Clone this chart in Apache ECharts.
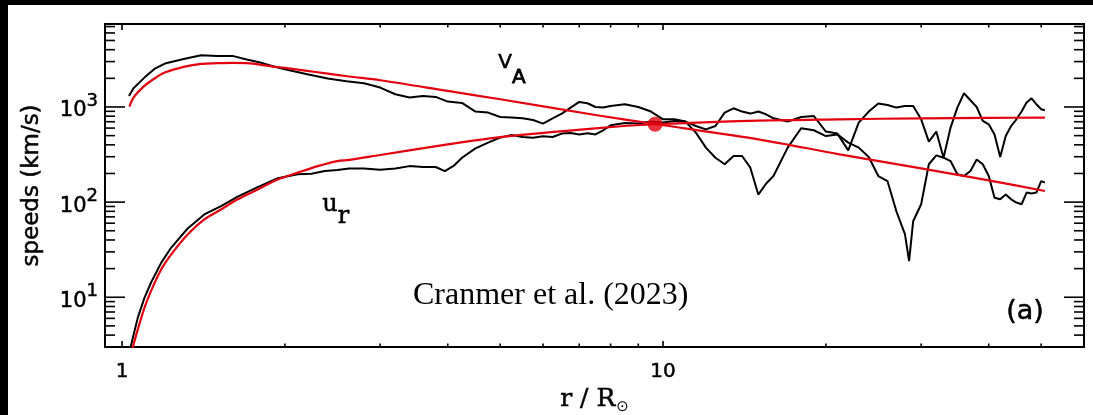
<!DOCTYPE html>
<html>
<head>
<meta charset="utf-8">
<title>Speeds vs radius</title>
<script src="https://cdn.jsdelivr.net/npm/echarts@6/dist/echarts.min.js"></script>
<style>
  html, body { margin: 0; padding: 0; background: #000; width: 100%; height: 100%; overflow: hidden; }
  #chart { position: absolute; left: 8px; top: 5px; right: 0; bottom: 0; background: #fff; }
</style>
</head>
<body>
<div id="chart"></div>
<script>
// Measured Alfven speed (black, noisy)
const vaObsR = [1.03, 1.05, 1.1, 1.15, 1.2, 1.3, 1.4, 1.5, 1.6, 1.7, 1.8, 1.9, 2.0, 2.2, 2.4, 2.6, 2.8, 3.0, 3.2, 3.4, 3.6, 3.8, 4.0, 4.25, 4.5, 4.75, 5.0, 5.25, 5.5, 5.75, 6.0, 6.25, 6.5, 6.75, 7.0, 7.25, 7.5, 7.75, 8.0, 8.5, 9.0, 9.5, 10, 10.5, 11, 11.5, 12, 12.5, 13, 13.5, 14, 14.5, 15, 15.5, 16, 17, 18, 19, 20, 21, 22, 23, 24, 25, 26, 27, 28, 28.5, 29, 30, 31, 32, 33, 34, 35, 36, 37, 38, 39, 40, 41, 42, 43, 44, 45, 46, 47, 48, 49, 50, 50.8];
const vaObsV = [1306, 1574, 2036, 2534, 2862, 3199, 3499, 3444, 3444, 3155, 2931, 2680, 2494, 2208, 1990, 1864, 1775, 1600, 1361, 1256, 1306, 1275, 1140, 1103, 895, 873, 785, 773, 760, 729, 668, 760, 852, 986, 1130, 1094, 1000, 985, 1025, 1068, 1000, 895, 742, 742, 702, 537, 374, 293, 250, 305, 305, 230, 120, 156, 188, 374, 597, 569, 495, 515, 422, 374, 298, 188, 166, 80, 46, 24, 63, 95, 250, 310, 293, 270, 196, 188, 212, 281, 250, 188, 111, 107, 120, 107, 99, 95, 126, 123, 126, 166, 160];

// Measured radial wind speed (black, noisy)
const urObsR = [1.036, 1.069, 1.1, 1.131, 1.181, 1.232, 1.322, 1.419, 1.524, 1.636, 1.781, 1.94, 2.112, 2.24, 2.37, 2.5, 2.63, 2.8, 3.0, 3.2, 3.4, 3.6, 3.8, 3.95, 4.1, 4.25, 4.5, 4.75, 5.0, 5.25, 5.5, 5.75, 6.0, 6.25, 6.5, 6.75, 7.0, 7.25, 7.5, 7.75, 8.0, 8.5, 9.0, 9.5, 10, 10.5, 11, 11.5, 12, 12.5, 13, 13.5, 14, 14.5, 15, 15.5, 16, 17, 18, 19, 20, 21, 22, 23, 24, 25, 26, 27, 28, 29, 30, 31, 32, 33, 34, 35, 36, 37, 38, 39, 40, 41, 42, 43, 44, 45, 46, 47, 48, 49, 50, 50.8];
const urObsV = [2.93, 6.07, 9.86, 14.2, 23, 33.1, 52.8, 74.2, 90.8, 114, 144, 178, 196, 199, 212, 217, 225, 226, 219, 225, 239, 234, 234, 212, 240, 293, 367, 422, 476, 507, 483, 476, 491, 483, 525, 532, 515, 528, 515, 569, 641, 680, 672, 702, 685, 713, 702, 631, 582, 631, 873, 969, 895, 852, 895, 838, 760, 702, 785, 804, 551, 525, 350, 685, 895, 1086, 1050, 985, 1025, 1025, 742, 432, 551, 293, 607, 985, 1394, 1176, 1000, 713, 658, 515, 298, 495, 631, 742, 895, 1112, 1235, 1068, 946, 923];

// Model Alfven speed (red)
const vaModR = [1.032, 1.05, 1.1, 1.15, 1.2, 1.3, 1.4, 1.5, 1.6, 1.7, 1.8, 1.9, 2.0, 2.2, 2.4, 2.63, 3.0, 4.0, 5.0, 7.5, 9.67, 15, 21.2, 30, 40, 50.8];
const vaModV = [1010, 1256, 1664, 2005, 2301, 2636, 2838, 2884, 2908, 2884, 2793, 2660, 2576, 2394, 2245, 2090, 1910, 1474, 1205, 824, 662, 457, 318, 226, 169, 131];

// Model radial wind speed (red)
const urModR = [1.046, 1.069, 1.1, 1.131, 1.181, 1.232, 1.322, 1.419, 1.524, 1.636, 1.781, 1.94, 2.112, 2.3, 2.5, 2.63, 3.0, 4.0, 5.0, 7.5, 9.67, 15, 21.2, 30, 40, 50.8];
const urModV = [2.93, 4.57, 7.73, 11.6, 19.6, 28.1, 45.7, 65.8, 83.7, 107, 136, 173, 204, 239, 270, 278, 313, 405, 483, 597, 658, 720, 742, 760, 768, 773];

// Alfven critical point
const criticalPoint = [9.67, 660];

// Axis tick values
const xMajorTicks = [1, 10];
const xMinorTicks = [2, 3, 4, 5, 6, 7, 8, 9, 20, 30, 40, 50];
const yMajorTicks = [10, 100, 1000];
const yMinorTicks = [4, 5, 6, 7, 8, 9, 20, 30, 40, 50, 60, 70, 80, 90, 200, 300, 400, 500, 600, 700, 800, 900, 2000, 3000, 4000, 5000, 6000, 7000];

const zip = (a, b) => a.map((x, i) => [x, b[i]]);
const RED = '#e3000f';
const SANS = 'DejaVu Sans';
const SERIF = 'DejaVu Serif';
const INK = { color: '#000', textBorderColor: '#000', textBorderWidth: 0.5 };

function isDecade(v) {
  const e = Math.log10(v);
  return Math.abs(e - Math.round(e)) < 1e-6;
}

// Inward ticks on both vertical edges
function yTickSeries(values, len) {
  return {
    type: 'custom', silent: true, clip: false, z: 5,
    data: values.map(v => [1, v]),
    renderItem(params, api) {
      const cs = params.coordSys;
      const y = api.coord([1, api.value(1)])[1];
      const st = { stroke: '#000', lineWidth: 1.6 };
      return { type: 'group', children: [
        { type: 'line', shape: { x1: cs.x, y1: y, x2: cs.x + len, y2: y }, style: st },
        { type: 'line', shape: { x1: cs.x + cs.width, y1: y, x2: cs.x + cs.width - len, y2: y }, style: st }
      ]};
    }
  };
}
// Inward ticks on both horizontal edges
function xTickSeries(values, len) {
  return {
    type: 'custom', silent: true, clip: false, z: 5,
    data: values.map(v => [v, 100]),
    renderItem(params, api) {
      const cs = params.coordSys;
      const x = api.coord([api.value(0), 100])[0];
      const st = { stroke: '#000', lineWidth: 1.6 };
      return { type: 'group', children: [
        { type: 'line', shape: { x1: x, y1: cs.y + cs.height, x2: x, y2: cs.y + cs.height - len }, style: st },
        { type: 'line', shape: { x1: x, y1: cs.y, x2: x, y2: cs.y + len }, style: st }
      ]};
    }
  };
}

const chart = echarts.init(document.getElementById('chart'), null, { renderer: 'canvas' });
chart.setOption({
  animation: false,
  backgroundColor: '#fff',
  textStyle: { fontFamily: SANS, color: '#000' },
  grid: {
    left: 97, top: 19, width: 979, height: 323, outerBoundsMode: 'none', containLabel: false,
    show: true, borderColor: '#000', borderWidth: 2, backgroundColor: 'transparent'
  },
  xAxis: {
    type: 'log', logBase: 10, min: 0.93, max: 60,
    axisLine: { show: true, lineStyle: { color: '#000', width: 2 } },
    axisTick: { show: false }, splitLine: { show: false }, minorTick: { show: false },
    axisLabel: Object.assign({
      margin: 15, fontSize: 20, fontFamily: SANS,
      showMinLabel: false, showMaxLabel: false,
      formatter: v => (isDecade(v) ? String(Math.round(v)) : '')
    }, INK),
    name: '{m|r / R}{s|⊙}', nameLocation: 'middle', nameGap: 33,
    nameTextStyle: {
      rich: {
        m: Object.assign({ fontFamily: SERIF, fontSize: 25, verticalAlign: 'top' }, INK),
        s: { fontFamily: SANS, fontSize: 15, color: '#000', verticalAlign: 'bottom', padding: [12, 0, 0, 1] }
      }
    }
  },
  yAxis: {
    type: 'log', logBase: 10, min: 3, max: 7450,
    axisLine: { show: true, lineStyle: { color: '#000', width: 2 } },
    axisTick: { show: false }, splitLine: { show: false }, minorTick: { show: false },
    axisLabel: {
      margin: 7, color: '#000',
      showMinLabel: false, showMaxLabel: false,
      formatter: v => (isDecade(v) ? '{b|10}{s|' + Math.round(Math.log10(v)) + '}' : ''),
      rich: {
        b: Object.assign({ fontFamily: SANS, fontSize: 21, verticalAlign: 'bottom' }, INK),
        s: Object.assign({ fontFamily: SANS, fontSize: 18, verticalAlign: 'top', padding: [0, 0, 11, 0] }, INK)
      }
    },
    name: 'speeds (km/s)', nameLocation: 'middle', nameGap: 61,
    nameTextStyle: Object.assign({ fontFamily: SANS, fontSize: 23 }, INK)
  },
  graphic: [
    { type: 'text', left: 405, top: 275, style: { text: 'Cranmer et al. (2023)', font: '32px "Liberation Serif"', fill: '#000' } },
    { type: 'text', left: 998, top: 293, style: { text: '(a)', font: '27px "DejaVu Sans"', fill: '#000', stroke: '#000', lineWidth: 0.5 } },
    { type: 'text', left: 490, top: 47, style: {
      text: '{m|V}{s|A}',
      rich: {
        m: { fontFamily: SANS, fontSize: 20, fill: '#000', stroke: '#000', lineWidth: 0.6, verticalAlign: 'top' },
        s: { fontFamily: SANS, fontSize: 20, fill: '#000', stroke: '#000', lineWidth: 0.8, verticalAlign: 'bottom', padding: [15, 0, 0, 0] }
      } } },
    { type: 'text', left: 314, top: 188, style: {
      text: '{m|u}{s|r}',
      rich: {
        m: { fontFamily: SERIF, fontSize: 24, fill: '#000', stroke: '#000', lineWidth: 0.5, verticalAlign: 'top' },
        s: { fontFamily: SERIF, fontSize: 24, fill: '#000', stroke: '#000', lineWidth: 0.5, verticalAlign: 'bottom', padding: [12, 0, 0, 0] }
      } } }
  ],
  series: [
    xTickSeries(xMajorTicks, 6),
    xTickSeries(xMinorTicks, 3.5),
    yTickSeries(yMajorTicks, 20),
    yTickSeries(yMinorTicks, 10),
    { name: 'V_A measured', type: 'line', data: zip(vaObsR, vaObsV), showSymbol: false, lineStyle: { color: '#000', width: 2 }, z: 2 },
    { name: 'u_r measured', type: 'line', data: zip(urObsR, urObsV), showSymbol: false, lineStyle: { color: '#000', width: 2 }, z: 2 },
    { name: 'V_A model', type: 'line', data: zip(vaModR, vaModV), showSymbol: false, smooth: 0.3, lineStyle: { color: RED, width: 2.2 }, z: 3 },
    { name: 'u_r model', type: 'line', data: zip(urModR, urModV), showSymbol: false, smooth: 0.3, lineStyle: { color: RED, width: 2.2 }, z: 3 },
    { name: 'critical point', type: 'scatter', data: [criticalPoint], symbolSize: 15, itemStyle: { color: RED }, z: 4 }
  ]
});
</script>
</body>
</html>
